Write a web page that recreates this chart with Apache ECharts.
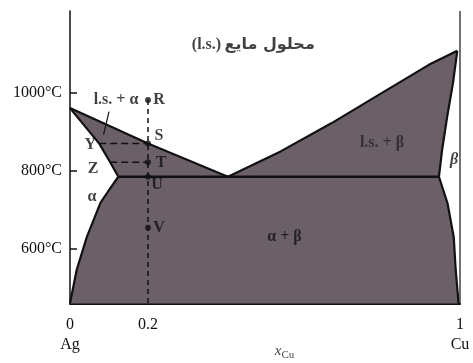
<!DOCTYPE html>
<html>
<head>
<meta charset="utf-8">
<script src="https://cdn.jsdelivr.net/npm/echarts@6/dist/echarts.min.js"></script>
<style>
  html, body { margin: 0; padding: 0; background: #fff; }
  #chart { width: 473px; height: 363px; }
</style>
</head>
<body>
<div id="chart"></div>
<script>
// phase diagram Ag-Cu (x = mole fraction Cu, T in °C)
const xTicks = [0, 0.2, 1]
const tTicks = [600, 800, 1000]

const liqLeft = [[0, 961], [0.2, 870], [0.405, 785]]
const solAlpha = [[0, 961], [0.075, 870], [0.103, 822], [0.124, 785]]
const solvAlpha = [[0.124, 785], [0.1, 751], [0.078, 718], [0.043, 630], [0.017, 546], [0, 460]]
const liqRight = [[0.405, 785], [0.54, 850], [0.67, 922], [0.8, 1000], [0.92, 1072], [0.993, 1108]]
const solBeta = [[0.993, 1108], [0.982, 1025], [0.967, 938], [0.954, 853], [0.946, 785]]
const solvBeta = [[0.946, 785], [0.968, 717], [0.984, 630], [0.989, 546], [0.995, 477], [0.996, 460]]
const eutectic = [[0.124, 785], [0.946, 785]]
const bottom = [[0.996, 460], [0, 460]]
const isopleth = [[0.2, 982], [0.2, 460]]
const rightEdge = [[1, 460], [1, 1210]]
const tieYS = [[0.075, 870], [0.2, 870]]
const tieZT = [[0.103, 822], [0.2, 822]]
const leader = [[0.1, 952], [0.086, 893]]

const pointNames = ['R', 'S', 'T', 'U', 'V']
const pointT = [982, 870, 822, 785, 654]
const sideNames = ['Y', 'Z']
const sidePoints = [[0.075, 870], [0.103, 822]]

const regionNames = ['l.s. + α', 'α', 'α + β', 'l.s. + β', 'β']
const regionPos = [[0.118, 982], [0.056, 733], [0.55, 631], [0.8, 871], [0.985, 828]]

const FILL = '#6b5f68'
const SERIF = 'Liberation Serif, DejaVu Serif, serif'

const chart = echarts.init(document.getElementById('chart'))

function polySeries(points) {
  return {
    type: 'custom',
    silent: true,
    z: 1,
    data: points,
    renderItem: function (params, api) {
      if (params.dataIndex !== 0) {
        return
      }
      return {
        type: 'polygon',
        shape: { points: points.map(p => api.coord(p)) },
        style: { fill: FILL }
      }
    }
  }
}

function lineSeries(points, width, type) {
  return {
    type: 'line',
    data: points,
    showSymbol: false,
    silent: true,
    z: 3,
    lineStyle: { color: '#111', width: width, type: type || 'solid' }
  }
}

const regionLsAlpha = liqLeft.concat(solAlpha.slice().reverse())
const regionLsBeta = liqRight.concat(solBeta)
const regionAB = eutectic.concat(solvBeta, bottom, solvAlpha.slice().reverse())

const pointOffsets = [[11, 0], [11, -8], [13, 1], [9, 8], [11, 0]]
const sideOffsets = [[-9, 1], [-17, 7]]

const option = {
  animation: false,
  grid: { left: 70, top: 11, width: 390, height: 292.5, outerBoundsMode: 'none' },
  xAxis: {
    type: 'value',
    min: 0,
    max: 1,
    axisLine: { lineStyle: { color: '#111', width: 2 } },
    axisTick: { show: false },
    splitLine: { show: false },
    axisLabel: {
      customValues: xTicks,
      margin: 11,
      color: '#111',
      fontFamily: SERIF,
      fontSize: 16,
      lineHeight: 20,
      formatter: function (v) {
        if (v === 0) return '0\nAg'
        if (v === 1) return '1\nCu'
        return String(v)
      }
    }
  },
  yAxis: {
    type: 'value',
    min: 460,
    max: 1210,
    axisLine: { show: true, lineStyle: { color: '#111', width: 1.5 } },
    axisTick: { show: true, inside: true, length: 7, customValues: tTicks, lineStyle: { color: '#111', width: 1.5 } },
    splitLine: { show: false },
    axisLabel: {
      customValues: tTicks,
      margin: 8,
      color: '#111',
      fontFamily: SERIF,
      fontSize: 16,
      formatter: function (v) {
        return v + '°C'
      }
    }
  },
  series: [
    polySeries(regionLsAlpha),
    polySeries(regionLsBeta),
    polySeries(regionAB),
    lineSeries(liqLeft, 2.2),
    lineSeries(solAlpha, 2.2),
    lineSeries(solvAlpha, 2.2),
    lineSeries(liqRight, 2.2),
    lineSeries(solBeta, 2.2),
    lineSeries(solvBeta, 2.2),
    lineSeries(eutectic, 2.6),
    lineSeries(rightEdge, 1.2),
    lineSeries(isopleth, 1.5, [5, 4]),
    lineSeries(tieYS, 1.5, [7, 4]),
    lineSeries(tieZT, 1.5, [7, 4]),
    lineSeries(leader, 1.2),
    {
      type: 'scatter',
      z: 5,
      symbolSize: 6,
      itemStyle: { color: '#111' },
      data: pointNames.map((n, i) => ({
        name: n,
        value: [0.2, pointT[i]],
        label: { offset: pointOffsets[i] }
      })),
      label: {
        show: true,
        position: 'inside',
        formatter: '{b}',
        color: '#111',
        fontFamily: SERIF,
        fontWeight: 'bold',
        fontSize: 16
      }
    },
    {
      type: 'scatter',
      z: 5,
      symbolSize: 0,
      data: sideNames.map((n, i) => ({
        name: n,
        value: sidePoints[i],
        label: { offset: sideOffsets[i] }
      })),
      label: {
        show: true,
        position: 'inside',
        formatter: '{b}',
        color: '#111',
        fontFamily: SERIF,
        fontWeight: 'bold',
        fontSize: 16
      }
    },
    {
      type: 'scatter',
      z: 5,
      symbolSize: 0,
      data: regionNames.map((n, i) => ({
        name: n,
        value: regionPos[i],
        label: {
          fontStyle: n === 'β' ? 'italic' : 'normal',
          color: n === 'l.s. + β' ? '#2a2228' : '#111'
        }
      })),
      label: {
        show: true,
        position: 'inside',
        formatter: '{b}',
        fontFamily: SERIF,
        fontWeight: 'bold',
        fontSize: 16
      }
    },
    {
      type: 'scatter',
      z: 5,
      symbolSize: 0,
      data: [{ name: 'title', value: [0.47, 1123] }],
      label: {
        show: true,
        position: 'inside',
        formatter: '{a|(l.s.)} {b|محلول مایع}',
        rich: {
          a: { fontFamily: SERIF, fontWeight: 'bold', fontSize: 16, color: '#111' },
          b: { fontFamily: 'DejaVu Sans', fontWeight: 'bold', fontSize: 16, color: '#111' }
        }
      }
    },
    {
      // axis name x_Cu under the axis
      type: 'scatter',
      z: 5,
      symbolSize: 0,
      data: [{ name: 'xCu', value: [0.55, 460] }],
      label: {
        show: true,
        position: 'inside',
        offset: [0, 48],
        formatter: '{x|x}{c|Cu}',
        rich: {
          x: { fontFamily: SERIF, fontStyle: 'italic', fontSize: 15, color: '#111' },
          c: { fontFamily: SERIF, fontSize: 11, color: '#111', padding: [8, 0, 0, 0] }
        }
      }
    }
  ]
}

chart.setOption(option)
</script>
</body>
</html>
